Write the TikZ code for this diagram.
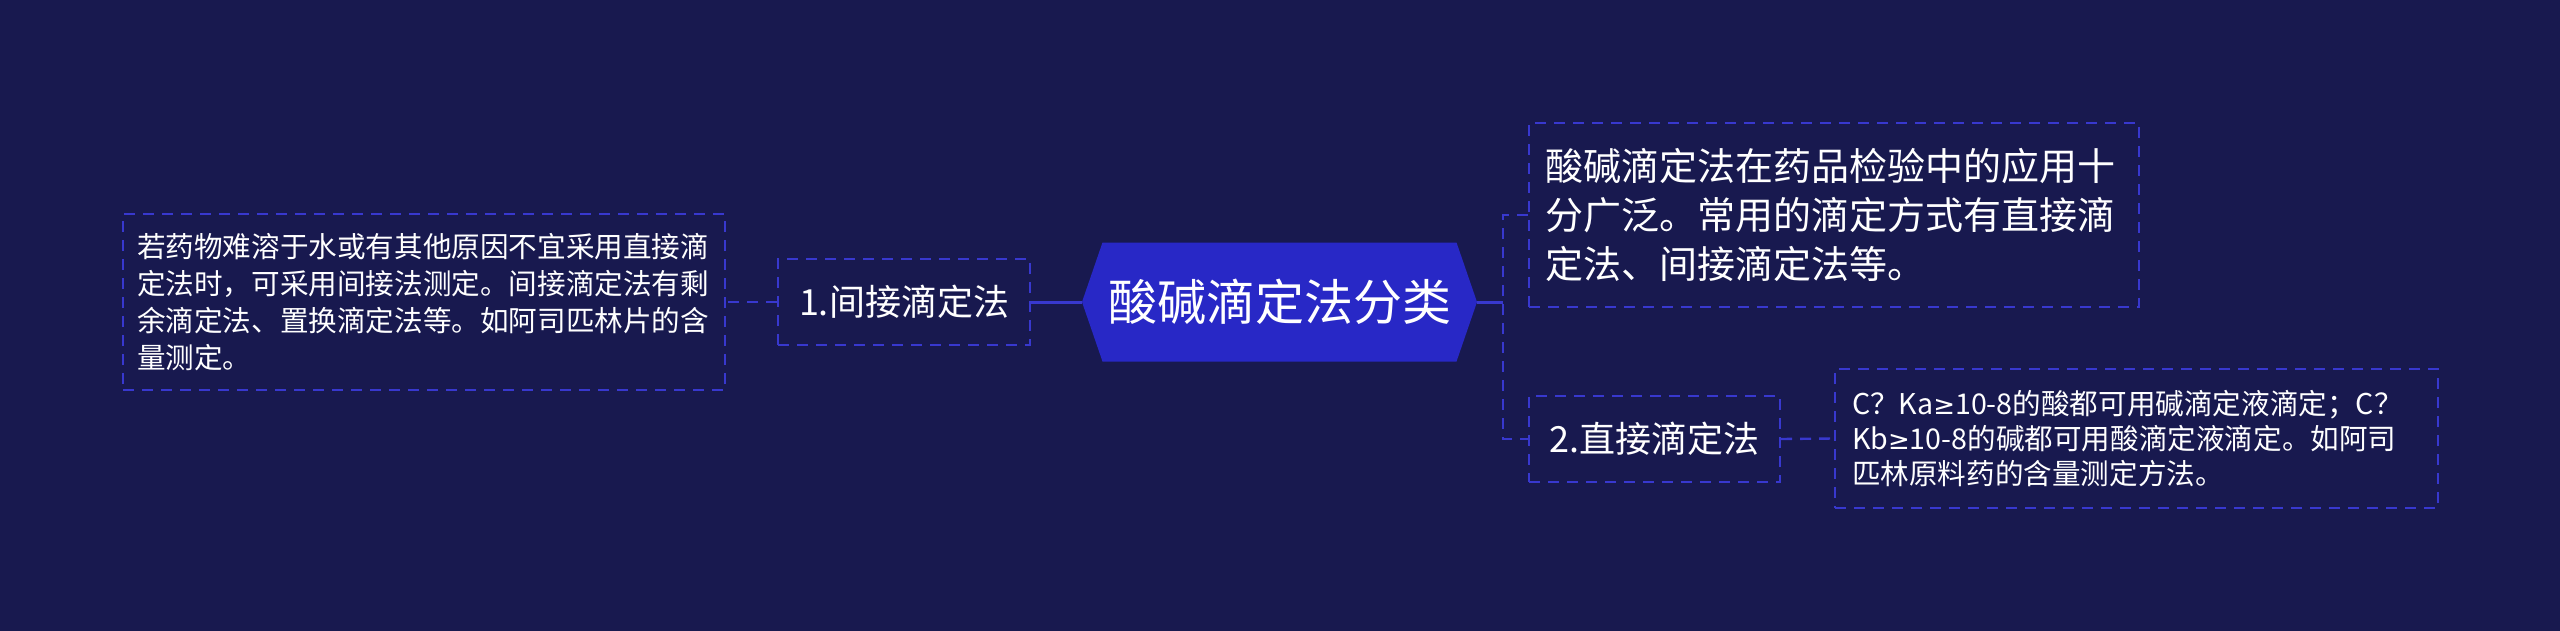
\documentclass[tikz,border=0pt]{standalone}
\usepackage{fontspec}
\setmainfont{Noto Sans CJK SC}
\newfontfamily\symf{DejaVu Sans}
\usetikzlibrary{shapes.symbols}
\definecolor{bgc}{HTML}{18194F}
\definecolor{hexc}{HTML}{2828C6}
\definecolor{linec}{HTML}{3838CE}
\newcommand{\gehalt}{{\symf\fontsize{13pt}{17.5pt}\selectfont ≥}}
\tikzset{
  box/.style={draw=linec, line width=1.2pt, dash pattern=on 5.5pt off 4pt, text=white, align=left, anchor=center, inner ysep=0pt},
  leaftext/.style={font=\fontsize{14.3pt}{18.6pt}\selectfont},
  midtext/.style={font=\fontsize{18pt}{22pt}\selectfont},
  conn/.style={draw=linec, line width=1.2pt, dash pattern=on 5.5pt off 4pt},
  mainconn/.style={draw=linec, line width=1.5pt},
}
\begin{document}
\begin{tikzpicture}[x=0.5pt,y=-0.5pt]
\fill[bgc] (0,0) rectangle (2560,631);
\useasboundingbox (0,0) rectangle (2560,631);

\node[signal, signal to=west and east, signal pointer angle=142, fill=hexc, draw=none,
      minimum width=197.5pt, minimum height=59.5pt, inner sep=0pt, text=white,
      font=\fontsize{24.5pt}{28pt}\selectfont] (root) at (1279.5,302) {酸碱滴定法分类};

\node[box, midtext, minimum width=126pt, minimum height=43pt] (b1) at (904,302) {1.间接滴定法};
\node[box, leaftext, minimum width=301pt, minimum height=88pt, text width=287pt, inner xsep=7pt] (l1) at (424,302)
  {若药物难溶于水或有其他原因不宜采用直接滴\\定法时，可采用间接法测定。间接滴定法有剩\\余滴定法、置换滴定法等。如阿司匹林片的含\\量测定。};

\node[box, font=\fontsize{19pt}{24.5pt}\selectfont, minimum width=305pt, minimum height=92pt, text width=289pt, inner xsep=8pt] (t1) at (1834,215)
  {酸碱滴定法在药品检验中的应用十\\分广泛。常用的滴定方式有直接滴\\定法、间接滴定法等。};

\node[box, font=\fontsize{14.3pt}{17.5pt}\selectfont, minimum width=125.5pt, minimum height=43pt, midtext] (b2) at (1654.5,439) {2.直接滴定法};
\node[box, font=\fontsize{14.3pt}{17.5pt}\selectfont, minimum width=301.5pt, minimum height=69.5pt, text width=284.5pt, inner xsep=8.5pt] (l2) at (2136.5,438.5)
  {C？Ka\gehalt10-8的酸都可用碱滴定液滴定；C？\\Kb\gehalt10-8的碱都可用酸滴定液滴定。如阿司\\匹林原料药的含量测定方法。};

\coordinate (vx) at (1503,302);
\draw[mainconn] (root.west) -- (b1.east);
\draw[conn] (b1.west) -- (l1.east);
\draw[mainconn] (root.east) -- (vx);
\draw[conn] (t1.west) -| (vx) |- (b2.west);
\draw[conn] (b2.east) -- (l2.west);
\end{tikzpicture}
\end{document}
